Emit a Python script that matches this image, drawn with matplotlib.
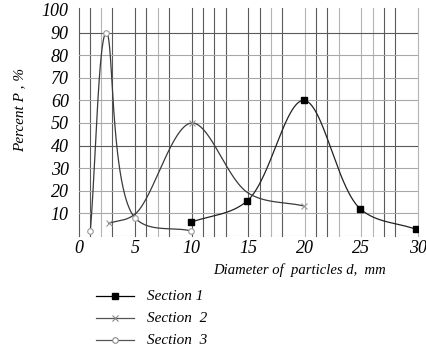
import numpy as np
import matplotlib
matplotlib.use("Agg")
import matplotlib.pyplot as plt
from matplotlib.lines import Line2D

# ---- data ----
s1_x = [9.9, 14.9, 19.9, 24.9, 29.8]
s1_y = [6.0, 15.5, 60.0, 12.0, 3.0]

s2_x = [2.67, 5.0, 10.0, 15.0, 19.9]
s2_y = [5.6, 9.7, 50.0, 19.0, 13.3]
s2_marked = [0, 2, 4]

s3_x = [1.05, 2.46, 5.0, 9.9]
s3_y = [2.4, 90.0, 8.0, 2.3]

x_ticks = [0, 5, 10, 15, 20, 25, 30]
y_ticks = [10, 20, 30, 40, 50, 60, 70, 80, 90, 100]
labels = ["Section 1", "Section  2", "Section  3"]

FONT = "Liberation Serif"

W, H = 426, 352
x0, x1 = 78.5, 418.0
y0, y1 = 236.0, 10.0
SX = (x1 - x0) / 30.0
SY = (y0 - y1) / 100.0


def smooth(xs, ys, n=80, alpha=0.5):
    """Centripetal Catmull-Rom smoothing done in screen (pixel) space."""
    P = np.column_stack([np.asarray(xs) * SX, np.asarray(ys) * SY]).astype(float)
    P = np.vstack([2 * P[0] - P[1], P, 2 * P[-1] - P[-2]])
    out = []
    for i in range(1, len(P) - 2):
        p0, p1, p2, p3 = P[i - 1], P[i], P[i + 1], P[i + 2]
        t0 = 0.0
        t1 = t0 + np.linalg.norm(p1 - p0) ** alpha
        t2 = t1 + np.linalg.norm(p2 - p1) ** alpha
        t3 = t2 + np.linalg.norm(p3 - p2) ** alpha
        m1 = (t2 - t1) * ((p1 - p0) / (t1 - t0) - (p2 - p0) / (t2 - t0) + (p2 - p1) / (t2 - t1))
        m2 = (t2 - t1) * ((p2 - p1) / (t2 - t1) - (p3 - p1) / (t3 - t1) + (p3 - p2) / (t3 - t2))
        c1 = p1 + m1 / 3.0
        c2 = p2 - m2 / 3.0
        t = np.linspace(0, 1, n)[:, None]
        seg = ((1 - t) ** 3) * p1 + 3 * ((1 - t) ** 2) * t * c1 + 3 * (1 - t) * t ** 2 * c2 + t ** 3 * p2
        out.append(seg if i == 1 else seg[1:])
    out = np.vstack(out)
    return out[:, 0] / SX, out[:, 1] / SY


fig = plt.figure(figsize=(4.26, 3.52), dpi=100)
ax = fig.add_axes([x0 / W, 1 - y0 / H, (x1 - x0) / W, (y0 - y1) / H])
ax.set_xlim(0, 30)
ax.set_ylim(0, 100)
for s in ax.spines.values():
    s.set_visible(False)

# grid (vertical every unit except 4, 9, 14, ...)
dark_v = {0, 1, 3, 5, 6, 8, 10, 11, 12, 13, 15, 16, 18, 21, 22, 27, 28}
for xv in range(0, 31):
    if xv % 5 == 4:
        continue
    c = "#5a5a5a" if xv in dark_v else "#b4b4b4"
    ax.plot([xv, xv], [0, 101], color=c, lw=0.8, zorder=1, clip_on=False)
for yv in range(10, 100, 10):
    c = "#5a5a5a" if yv in (40, 90) else "#a8a8a8"
    ax.axhline(yv, color=c, lw=0.8, zorder=1)
ax.axhline(0, color="#c8c8c8", lw=0.8, zorder=1)

# curves
sx, sy = smooth(s1_x, s1_y)
ax.plot(sx, sy, color="#222222", lw=0.9, zorder=3)
ax.plot(s1_x, s1_y, ls="none", marker="s", ms=4.5, color="black", zorder=4)

sx, sy = smooth(s2_x, s2_y)
ax.plot(sx, sy, color="#3a3a3a", lw=0.9, zorder=3)
ax.plot([s2_x[i] for i in s2_marked], [s2_y[i] for i in s2_marked], ls="none",
        marker="x", ms=4, mew=0.8, color="#999999", zorder=4)

sx, sy = smooth(s3_x, s3_y)
ax.plot(sx, sy, color="#3a3a3a", lw=0.9, zorder=3)
ax.plot(s3_x, s3_y, ls="none", marker="o", ms=4, mfc="white", mec="#999999", mew=0.8, zorder=4)

ax.set_xticks(x_ticks)
ax.set_yticks(y_ticks)
ax.set_xticklabels([str(v) for v in x_ticks], fontfamily=FONT, fontstyle="italic", fontsize=13)
ax.set_yticklabels([str(v) for v in y_ticks], fontfamily=FONT, fontstyle="italic", fontsize=13)
ax.tick_params(length=0, pad=7)
ax.tick_params(axis="x", pad=3)

fig.text(20 / W, 1 - 110 / H, "Percent P , %", rotation=90, ha="center", va="center",
         fontfamily=FONT, fontstyle="italic", fontsize=11)
fig.text(213 / W, 1 - 270 / H, "Diameter of  particles d,  mm", ha="left", va="center",
         fontfamily=FONT, fontstyle="italic", fontsize=10.5)

# legend (manual)
styles = [dict(color="black", marker="s", ms=4.5, mfc="black", mec="black"),
          dict(color="#555555", marker="x", ms=4, mew=0.8, mec="#888888"),
          dict(color="#555555", marker="o", ms=4, mfc="white", mec="#888888", mew=0.8)]
for k, (lab, st) in enumerate(zip(labels, styles)):
    yy = 1 - (296 + 22 * k) / H
    fig.add_artist(Line2D([96 / W, 134 / W], [yy, yy], lw=0.9, transform=fig.transFigure,
                          color=st["color"]))
    mk = {kk: v for kk, v in st.items() if kk != "color"}
    fig.add_artist(Line2D([115 / W], [yy], transform=fig.transFigure, ls="none",
                          color=st["color"], **mk))
    fig.text(147 / W, yy, lab, ha="left", va="center", fontfamily=FONT,
             fontstyle="italic", fontsize=11)

fig.savefig("out.png", dpi=100)
